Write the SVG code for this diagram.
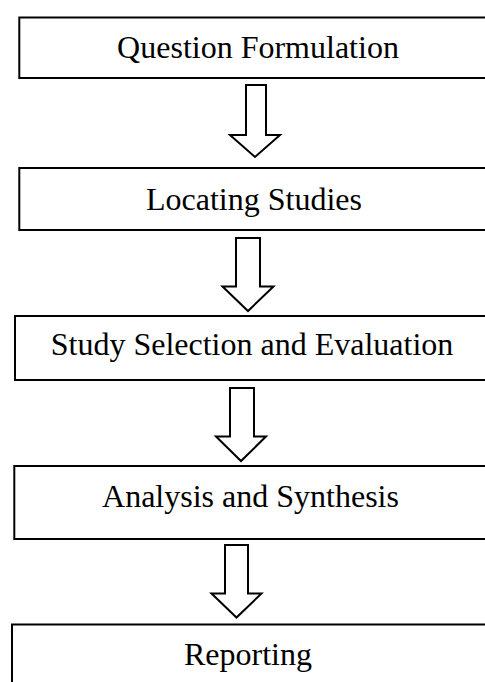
<svg xmlns="http://www.w3.org/2000/svg" width="485" height="682" viewBox="0 0 485 682">
  <style>
    .box { fill: #ffffff; stroke: #000000; stroke-width: 2; }
    .arrow { fill: #ffffff; stroke: #000000; stroke-width: 2; stroke-linejoin: miter; }
    .label { font-family: "Liberation Serif", "Times New Roman", serif; font-size: 32px; fill: #000000; text-anchor: middle; }
  </style>
  <rect x="0" y="0" width="485" height="682" fill="#ffffff"/>
  <g id="node-question-formulation">
    <rect class="box" x="19.3" y="17.5" width="490" height="60.5"/>
    <text class="label" x="258" y="58">Question Formulation</text>
  </g>
  <g id="node-locating-studies">
    <rect class="box" x="19.3" y="168" width="490" height="62"/>
    <text class="label" x="254" y="209.5">Locating Studies</text>
  </g>
  <g id="node-study-selection">
    <rect class="box" x="15" y="316" width="490" height="64"/>
    <text class="label" x="252" y="355">Study Selection and Evaluation</text>
  </g>
  <g id="node-analysis-synthesis">
    <rect class="box" x="14.3" y="466" width="490" height="73"/>
    <text class="label" x="250.5" y="507">Analysis and Synthesis</text>
  </g>
  <g id="node-reporting">
    <rect class="box" x="12" y="624.5" width="490" height="80"/>
    <text class="label" x="248" y="665">Reporting</text>
  </g>
  <g id="connectors">
    <polygon class="arrow" points="246,85 266,85 266,135 280,135 255,157 230,135 246,135"/>
    <polygon class="arrow" points="236,238 260,238 260,286.5 273.5,286.5 248,311 222.5,286.5 236,286.5"/>
    <polygon class="arrow" points="230,388 254,388 254,436.5 266,436.5 241,461 216,436.5 230,436.5"/>
    <polygon class="arrow" points="225,545 248,545 248,593.5 261.5,593.5 236.5,617.5 211.5,593.5 225,593.5"/>
  </g>
</svg>
